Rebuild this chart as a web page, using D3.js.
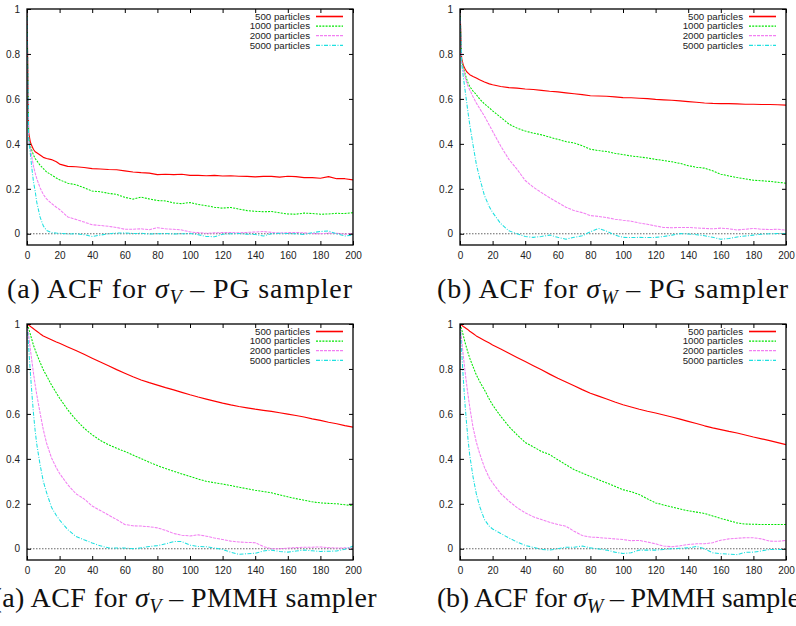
<!DOCTYPE html>
<html>
<head>
<meta charset="utf-8">
<script src="https://cdn.jsdelivr.net/npm/d3@7"></script>
<style>
  html, body { margin: 0; padding: 0; background: #fff; }
  svg { display: block; }
</style>
</head>
<body>
<svg id="chart" width="796" height="626"></svg>
<script>
// Lags at which the autocorrelation is plotted
const lags = [0,1,2,3,4,5,6,8,10,12,15,18,20,25,30,35,40,45,50,55,60,65,70,75,80,85,90,95,100,105,110,115,120,125,130,135,140,145,150,155,160,165,170,175,180,185,190,195,200];

const seriesLabels = ["500 particles", "1000 particles", "2000 particles", "5000 particles"];
const xTicks = [0,20,40,60,80,100,120,140,160,180,200];
const yTicks = [0,0.2,0.4,0.6,0.8,1];

// PG sampler, sigma_V
const pgV500  = [1.0,0.45,0.41,0.39,0.375,0.365,0.36,0.35,0.34,0.335,0.33,0.32,0.31,0.30,0.298,0.295,0.29,0.288,0.286,0.285,0.28,0.275,0.272,0.27,0.263,0.265,0.263,0.265,0.26,0.26,0.258,0.26,0.257,0.258,0.256,0.255,0.253,0.255,0.255,0.252,0.256,0.254,0.25,0.25,0.247,0.254,0.245,0.245,0.24];
const pgV1000 = [1.0,0.43,0.39,0.37,0.35,0.335,0.325,0.305,0.29,0.275,0.262,0.248,0.24,0.225,0.218,0.205,0.19,0.187,0.18,0.175,0.162,0.154,0.163,0.155,0.148,0.146,0.137,0.134,0.139,0.13,0.125,0.118,0.114,0.117,0.11,0.103,0.1,0.098,0.099,0.093,0.088,0.087,0.092,0.09,0.087,0.088,0.091,0.09,0.094];
const pgV2000 = [1.0,0.42,0.38,0.34,0.30,0.27,0.245,0.205,0.175,0.155,0.135,0.118,0.108,0.075,0.064,0.052,0.04,0.037,0.033,0.028,0.02,0.02,0.022,0.018,0.027,0.022,0.02,0.017,0.008,0.005,0.002,0.004,0.005,0.006,0.004,0.006,0.008,0.01,0.006,0.003,0.005,0.006,0.004,0.001,0.0,0.003,0.002,-0.002,0.002];
const pgV5000 = [1.0,0.42,0.36,0.29,0.23,0.19,0.14,0.075,0.035,0.015,0.005,0.003,0.002,-0.001,0.0,-0.004,-0.012,-0.006,0.0,0.003,0.004,0.001,0.002,-0.001,0.0,0.001,-0.001,0.0,0.001,-0.004,-0.012,-0.013,-0.002,0.0,0.001,-0.002,-0.003,-0.01,0.0,0.002,0.001,0.0,-0.003,0.005,0.01,0.012,0.0,-0.01,-0.005];

// PG sampler, sigma_W
const pgW500  = [1.0,0.78,0.75,0.735,0.722,0.715,0.708,0.70,0.693,0.685,0.675,0.667,0.663,0.655,0.65,0.648,0.644,0.642,0.638,0.634,0.631,0.627,0.623,0.619,0.614,0.613,0.612,0.609,0.606,0.605,0.603,0.601,0.598,0.596,0.594,0.591,0.588,0.585,0.582,0.58,0.579,0.579,0.578,0.576,0.576,0.575,0.575,0.574,0.572];
const pgW1000 = [1.0,0.77,0.74,0.715,0.69,0.67,0.655,0.635,0.619,0.60,0.578,0.56,0.547,0.518,0.488,0.47,0.457,0.448,0.44,0.43,0.42,0.41,0.404,0.392,0.376,0.37,0.366,0.358,0.352,0.346,0.342,0.337,0.331,0.326,0.32,0.313,0.303,0.296,0.292,0.28,0.265,0.257,0.25,0.244,0.238,0.236,0.233,0.229,0.225];
const pgW2000 = [1.0,0.77,0.73,0.70,0.675,0.655,0.64,0.61,0.582,0.558,0.523,0.483,0.456,0.39,0.331,0.287,0.237,0.207,0.183,0.16,0.139,0.118,0.103,0.094,0.081,0.077,0.072,0.065,0.06,0.056,0.048,0.042,0.035,0.028,0.027,0.028,0.028,0.026,0.024,0.022,0.025,0.022,0.017,0.02,0.024,0.02,0.019,0.02,0.016];
const pgW5000 = [1.0,0.76,0.70,0.645,0.59,0.535,0.485,0.395,0.31,0.25,0.17,0.12,0.095,0.045,0.013,0.0,-0.012,-0.016,-0.012,-0.006,-0.016,-0.024,-0.016,-0.009,0.009,0.024,0.011,-0.006,-0.016,-0.017,-0.016,-0.017,-0.016,-0.012,-0.006,0.001,-0.001,-0.004,-0.009,-0.016,-0.024,-0.021,-0.014,-0.01,-0.006,-0.002,0.0,0.001,0.001];

// PMMH sampler, sigma_V
const pmmhV500  = [1.0,0.995,0.99,0.984,0.979,0.973,0.968,0.957,0.947,0.94,0.93,0.92,0.914,0.898,0.882,0.865,0.848,0.831,0.814,0.797,0.781,0.765,0.751,0.739,0.728,0.717,0.707,0.696,0.685,0.675,0.666,0.657,0.648,0.64,0.633,0.627,0.621,0.616,0.611,0.605,0.599,0.593,0.586,0.578,0.571,0.563,0.556,0.548,0.541];
const pmmhV1000 = [1.0,0.98,0.955,0.93,0.905,0.885,0.865,0.83,0.796,0.77,0.729,0.693,0.67,0.618,0.574,0.537,0.507,0.482,0.463,0.447,0.433,0.417,0.401,0.385,0.37,0.357,0.345,0.333,0.322,0.31,0.30,0.294,0.288,0.281,0.274,0.267,0.26,0.255,0.249,0.24,0.231,0.223,0.216,0.209,0.204,0.202,0.2,0.196,0.192];
const pmmhV2000 = [1.0,0.95,0.89,0.835,0.78,0.73,0.685,0.605,0.53,0.47,0.405,0.36,0.335,0.285,0.245,0.222,0.19,0.17,0.15,0.13,0.108,0.102,0.101,0.098,0.093,0.082,0.068,0.06,0.057,0.062,0.056,0.048,0.041,0.034,0.03,0.028,0.027,0.01,0.0,0.0,0.003,0.005,0.007,0.007,0.008,0.005,0.003,0.004,0.003];
const pmmhV5000 = [1.0,0.9,0.79,0.69,0.6,0.525,0.465,0.375,0.30,0.25,0.185,0.148,0.128,0.085,0.055,0.04,0.026,0.013,0.004,0.003,0.003,0.0,0.004,0.01,0.014,0.022,0.032,0.032,0.016,0.01,0.009,0.003,-0.003,-0.015,-0.025,-0.022,-0.02,-0.01,-0.006,-0.012,-0.015,-0.01,-0.006,-0.009,-0.012,-0.011,-0.01,-0.002,0.012];

// PMMH sampler, sigma_W
const pmmhW500  = [1.0,0.995,0.989,0.984,0.979,0.974,0.968,0.958,0.947,0.939,0.927,0.915,0.907,0.889,0.87,0.851,0.833,0.814,0.796,0.777,0.759,0.742,0.725,0.708,0.692,0.679,0.666,0.653,0.641,0.631,0.621,0.612,0.604,0.595,0.586,0.577,0.567,0.557,0.547,0.538,0.53,0.522,0.515,0.506,0.497,0.489,0.481,0.472,0.463];
const pmmhW1000 = [1.0,0.975,0.95,0.92,0.895,0.87,0.848,0.81,0.774,0.745,0.707,0.665,0.64,0.589,0.544,0.507,0.473,0.453,0.433,0.419,0.396,0.374,0.352,0.337,0.322,0.307,0.293,0.278,0.263,0.254,0.241,0.222,0.204,0.195,0.186,0.177,0.169,0.163,0.157,0.146,0.135,0.125,0.115,0.11,0.109,0.108,0.108,0.108,0.108];
const pmmhW2000 = [1.0,0.93,0.86,0.795,0.735,0.68,0.63,0.54,0.475,0.425,0.362,0.315,0.293,0.245,0.212,0.183,0.16,0.142,0.13,0.118,0.108,0.1,0.078,0.059,0.052,0.05,0.047,0.044,0.041,0.036,0.037,0.03,0.022,0.012,0.009,0.013,0.019,0.022,0.022,0.027,0.038,0.044,0.047,0.049,0.049,0.044,0.034,0.033,0.037];
const pmmhW5000 = [1.0,0.88,0.76,0.65,0.56,0.48,0.415,0.32,0.245,0.19,0.13,0.1,0.088,0.068,0.048,0.03,0.015,0.006,-0.003,-0.006,0.0,0.007,0.007,0.012,0.004,-0.001,-0.006,-0.015,-0.021,-0.018,-0.006,-0.006,-0.006,-0.003,0.0,0.002,0.004,0.01,0.0,-0.018,-0.022,-0.024,-0.026,-0.016,-0.015,-0.01,-0.003,-0.003,-0.003];

// Line styles per particle count
const colors = ["#ff0000", "#00e600", "#f27ff2", "#1ee0e0"];
const dashes = [null, "2,1.2", "3,1", "4,1.5,1,1.5"];
const widths = [1.15, 1.05, 1.05, 1.05];

// capX/capAnchor place the caption; capWidth is its overall run length
const panels = [
  { letter: "a", param: "V", sampler: "PG",   series: [pgV500, pgV1000, pgV2000, pgV5000],
    left: 27,  top: 9,   capX: 7,   capY: 298, capAnchor: "start", capWidth: 345 },
  { letter: "b", param: "W", sampler: "PG",   series: [pgW500, pgW1000, pgW2000, pgW5000],
    left: 460, top: 9,   capX: 437, capY: 298, capAnchor: "start", capWidth: 351 },
  { letter: "a", param: "V", sampler: "PMMH", series: [pmmhV500, pmmhV1000, pmmhV2000, pmmhV5000],
    left: 27,  top: 324, capX: 377, capY: 607, capAnchor: "end",   capWidth: 384 },
  { letter: "b", param: "W", sampler: "PMMH", series: [pmmhW500, pmmhW1000, pmmhW2000, pmmhW5000],
    left: 460, top: 324, capX: 437, capY: 607, capAnchor: "start", capWidth: 372 }
];

const W = 326, H = 236;
const svg = d3.select("#chart");

const x = d3.scaleLinear().domain([0, 200]).range([0, W]);
const y = d3.scaleLinear().domain([-0.05, 1]).range([H, 0]);

const line = d3.line()
  .x((d, i) => x(lags[i]))
  .y(d => y(d));

panels.forEach(p => {
  const g = svg.append("g").attr("transform", `translate(${p.left},${p.top})`);

  const clipId = `clip-${p.letter}-${p.sampler}`;
  g.append("clipPath").attr("id", clipId)
    .append("rect").attr("width", W).attr("height", H);

  // zero reference line
  g.append("line")
    .attr("x1", x(0)).attr("x2", x(200))
    .attr("y1", y(0)).attr("y2", y(0))
    .attr("stroke", "#555").attr("stroke-width", 0.9)
    .attr("stroke-dasharray", "1.5,1.5");

  // ACF curves
  const curves = g.append("g").attr("clip-path", `url(#${clipId})`);
  p.series.forEach((vals, k) => {
    curves.append("path")
      .datum(vals)
      .attr("d", line)
      .attr("fill", "none")
      .attr("stroke", colors[k])
      .attr("stroke-width", widths[k])
      .attr("stroke-linejoin", "round")
      .attr("stroke-dasharray", dashes[k]);
  });

  // axes with inward, mirrored ticks
  const styleAxis = sel => {
    sel.select(".domain").remove();
    sel.selectAll(".tick line").attr("stroke", "#000").attr("stroke-width", 1);
    sel.selectAll(".tick text")
      .attr("font-family", "'Liberation Sans', Arial, sans-serif")
      .attr("font-size", 10).attr("fill", "#222");
  };
  g.append("g").attr("transform", `translate(0,${H})`)
    .call(d3.axisBottom(x).tickValues(xTicks).tickSizeInner(-4).tickSizeOuter(0).tickPadding(7).tickFormat(d3.format("d")))
    .call(styleAxis);
  g.append("g")
    .call(d3.axisTop(x).tickValues(xTicks).tickSizeInner(-4).tickSizeOuter(0).tickFormat(""))
    .call(styleAxis);
  g.append("g")
    .call(d3.axisLeft(y).tickValues(yTicks).tickSizeInner(-4).tickSizeOuter(0).tickPadding(7).tickFormat(d => d3.format("")(d)))
    .call(styleAxis);
  g.append("g").attr("transform", `translate(${W},0)`)
    .call(d3.axisRight(y).tickValues(yTicks).tickSizeInner(-4).tickSizeOuter(0).tickFormat(""))
    .call(styleAxis);

  // frame
  g.append("rect")
    .attr("width", W).attr("height", H)
    .attr("fill", "none").attr("stroke", "#000").attr("stroke-width", 1.3);

  // legend
  const leg = g.append("g");
  seriesLabels.forEach((lab, k) => {
    const ly = 7.5 + k * 9.6;
    leg.append("text")
      .attr("x", W - 43).attr("y", ly).attr("dy", "0.35em")
      .attr("text-anchor", "end")
      .attr("font-family", "'Liberation Sans', Arial, sans-serif")
      .attr("font-size", 9.7).attr("fill", "#222")
      .text(lab);
    leg.append("line")
      .attr("x1", W - 37).attr("x2", W - 10)
      .attr("y1", ly).attr("y2", ly)
      .attr("stroke", colors[k])
      .attr("stroke-width", k === 0 ? 1.6 : 1.2)
      .attr("stroke-dasharray", dashes[k]);
  });

  // caption, spread to its run length
  const cap = svg.append("text")
    .attr("x", p.capX).attr("y", p.capY)
    .attr("text-anchor", p.capAnchor)
    .attr("font-family", "'Liberation Serif', 'Times New Roman', serif")
    .attr("font-size", 28).attr("fill", "#111");
  cap.append("tspan").text(`(${p.letter}) ACF for `);
  cap.append("tspan").attr("font-style", "italic").text("σ");
  cap.append("tspan").attr("font-style", "italic").attr("font-size", 20).attr("dy", 6).text(p.param);
  cap.append("tspan").attr("dy", -6).text(` – ${p.sampler} sampler`);
  const node = cap.node();
  const natural = node.getComputedTextLength();
  const nChars = node.textContent.length;
  const spacing = (p.capWidth - natural) / Math.max(1, nChars - 1);
  cap.attr("letter-spacing", spacing.toFixed(2));
});
</script>
</body>
</html>
